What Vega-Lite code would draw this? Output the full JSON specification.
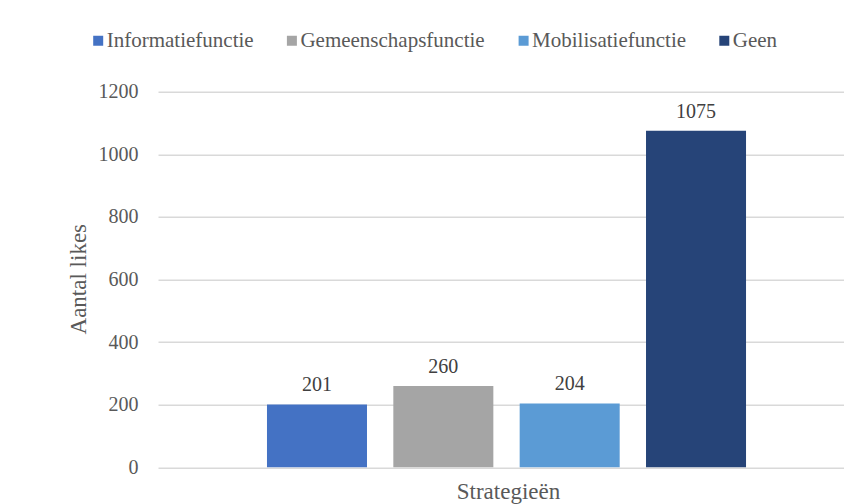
{
  "$schema": "https://vega.github.io/schema/vega-lite/v6.json",
  "width": 686,
  "height": 375.6,
  "autosize": {"type": "none"},
  "padding": {"left": 158, "top": 91.7, "right": 0, "bottom": 36.7},
  "background": "white",
  "config": {
    "view": {"stroke": null},
    "font": "Liberation Serif",
    "axis": {"labelFont": "Liberation Serif", "titleFont": "Liberation Serif"},
    "legend": {"labelFont": "Liberation Serif", "titleFont": "Liberation Serif"},
    "text": {"font": "Liberation Serif"}
  },
  "data": {
    "values": [
      {"strategie": "Informatiefunctie", "likes": 201},
      {"strategie": "Gemeenschapsfunctie", "likes": 260},
      {"strategie": "Mobilisatiefunctie", "likes": 204},
      {"strategie": "Geen", "likes": 1075}
    ]
  },
  "encoding": {
    "x": {
      "field": "strategie",
      "type": "nominal",
      "sort": ["Informatiefunctie", "Gemeenschapsfunctie", "Mobilisatiefunctie", "Geen"],
      "scale": {"paddingInner": 0.2084, "paddingOuter": 0.819, "align": 0.5266},
      "axis": {
        "labels": false, "ticks": false, "domain": false, "grid": false,
        "title": "Strategieën", "titleFontSize": 23, "titleColor": "#595959",
        "titleFontWeight": "normal", "titleFont": "Liberation Serif",
        "titleX": 350, "titleY": 31, "titleBaseline": "alphabetic", "titleAnchor": "middle"
      }
    },
    "y": {
      "field": "likes",
      "type": "quantitative",
      "scale": {"domain": [0, 1200], "nice": false},
      "axis": {
        "values": [0, 200, 400, 600, 800, 1000, 1200], "format": "d",
        "grid": true, "gridColor": "#d9d9d9", "gridWidth": 1.5,
        "domain": false, "ticks": false, "tickSize": 0,
        "labelPadding": 20, "labelFontSize": 20, "labelColor": "#595959", "labelFont": "Liberation Serif",
        "title": "Aantal likes", "titleFontSize": 23, "titleColor": "#595959",
        "titleFontWeight": "normal", "titleFont": "Liberation Serif",
        "titleAngle": -90, "titleX": -73, "titleY": 187, "titleBaseline": "alphabetic", "titleAlign": "center"
      }
    }
  },
  "layer": [
    {
      "mark": {"type": "bar"},
      "encoding": {
        "color": {
          "field": "strategie",
          "type": "nominal",
          "sort": ["Informatiefunctie", "Gemeenschapsfunctie", "Mobilisatiefunctie", "Geen"],
          "scale": {
            "domain": ["Informatiefunctie", "Gemeenschapsfunctie", "Mobilisatiefunctie", "Geen"],
            "range": ["#4472C4", "#A5A5A5", "#5B9BD5", "#264478"]
          },
          "legend": {
            "title": null, "orient": "none", "direction": "horizontal",
            "legendX": -70.3, "legendY": -61.7, "padding": 0,
            "symbolType": "square", "symbolSize": 100, "symbolStrokeWidth": 0,
            "labelFontSize": 21, "labelColor": "#595959", "labelFont": "Liberation Serif",
            "labelOffset": -2, "columnPadding": 27.7, "labelLimit": 0
          }
        }
      }
    },
    {
      "mark": {"type": "text", "dy": -13, "baseline": "alphabetic", "fontSize": 20, "color": "#404040", "font": "Liberation Serif"},
      "encoding": {"text": {"field": "likes", "type": "quantitative"}}
    }
  ]
}
